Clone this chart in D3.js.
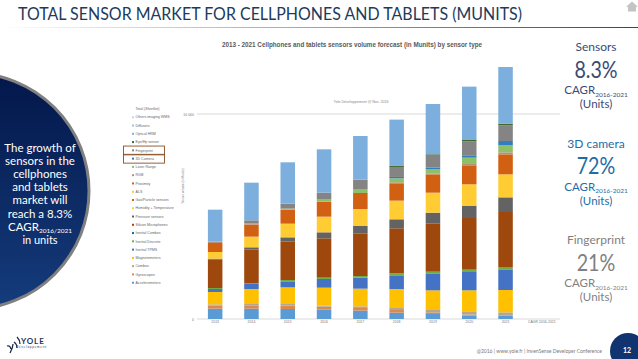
<!DOCTYPE html>
<html>
<head>
<meta charset="utf-8">
<script src="https://cdn.jsdelivr.net/npm/d3@7"></script>
<style>
  html, body { margin: 0; padding: 0; background: #fff; }
  svg { display: block; }
  text { font-family: Lato, sans-serif; }
  .chart text { font-family: "Liberation Sans", sans-serif; }
</style>
</head>
<body>
<div id="chart"></div>
<script>
var years = ["2013", "2014", "2015", "2016", "2017", "2018", "2019", "2020", "2021", "CAGR 2016-2021"];
var yTicks = [0, 10000];

// series in stacking order, bottom to top (Munits)
var seriesNames = ["Accelerometers", "Gyroscopes", "Combos", "Magnetometers", "Inertial TPMS", "Inertial Discrete",
  "Inertial Combos", "Silicon Microphones", "Pressure sensors", "Humidity + Temperature", "Gas/Particle sensors",
  "ALS", "Proximity", "RGB", "Laser Range", "3D Camera", "Fingerprint", "Eye/Hp sensor", "Optical HRM",
  "Diffusers", "Others imaging WMS"];
var seriesColors = ["#5b9bd5", "#d98a52", "#b5a68f", "#ffc000", "#4472c4", "#70ad47",
  "#255e91", "#9e480e", "#636363", "#ffcd33", "#d26012",
  "#ffcd33", "#d26012", "#b8917a", "#8cc168", "#327dc2", "#848484", "#43682b", "#7cafdd",
  "#9dc3e6", "#c9d6e8"];

var accel = [504, 504, 488, 455, 407, 309, 244, 163, 146];
var gyro = [146, 163, 163, 146, 130, 130, 81, 49, 33];
var combos = [65, 65, 81, 49, 81, 98, 114, 163, 146];
var magneto = [602, 732, 813, 878, 862, 927, 959, 1024, 1089];
var tpms = [146, 244, 293, 423, 537, 667, 829, 894, 1008];
var discrete = [49, 49, 65, 65, 81, 98, 81, 114, 114];
var inertCombos = [0, 0, 0, 0, 0, 0, 0, 0, 0];
var microphones = [1382, 1626, 1870, 1919, 2081, 2195, 2358, 2520, 2683];
var pressure = [49, 114, 211, 293, 358, 439, 520, 602, 715];
var humidity = [0, 0, 0, 0, 0, 0, 0, 0, 0];
var gas = [0, 0, 0, 0, 0, 0, 0, 0, 0];
var als = [325, 520, 667, 764, 829, 911, 976, 1041, 1122];
var proximity = [439, 585, 683, 732, 780, 846, 894, 927, 976];
var rgb = [65, 65, 0, 0, 0, 49, 49, 65, 98];
var laser = [0, 0, 49, 130, 195, 195, 211, 309, 341];
var camera3d = [0, 0, 0, 0, 0, 65, 65, 114, 211];
var fingerprint = [0, 146, 244, 309, 455, 488, 618, 683, 764];
var eyeHp = [0, 0, 0, 0, 0, 49, 33, 65, 81];
var opticalHrm = [1561, 1837, 2016, 2114, 2130, 2260, 2455, 2602, 2764];
var diffusers = [0, 0, 0, 0, 0, 0, 0, 0, 0];
var others = [0, 0, 0, 0, 0, 0, 0, 0, 0];

var seriesValues = [accel, gyro, combos, magneto, tpms, discrete, inertCombos, microphones, pressure, humidity, gas,
  als, proximity, rgb, laser, camera3d, fingerprint, eyeHp, opticalHrm, diffusers, others];

var titleLines = ["The growth of", "sensors in the", "cellphones", "and tablets", "market will", "reach a 8.3%"];
var sideNames = ["Sensors", "3D camera", "Fingerprint"];
var sideValues = ["8.3%", "72%", "21%"];
var sideColors = ["#3b4a75", "#1f6da6", "#7f7f7f"];

var svg = d3.select("#chart").append("svg")
  .attr("width", 638)
  .attr("height", 359);

var defs = svg.append("defs");
var grad = defs.append("linearGradient")
  .attr("id", "navy")
  .attr("x1", 0).attr("y1", 0).attr("x2", 0).attr("y2", 1);
grad.append("stop").attr("offset", "0%").attr("stop-color", "#03174a");
grad.append("stop").attr("offset", "100%").attr("stop-color", "#153c7c");

var ruleGrad = defs.append("linearGradient")
  .attr("id", "rule")
  .attr("gradientUnits", "userSpaceOnUse")
  .attr("x1", 0).attr("y1", 0).attr("x2", 638).attr("y2", 0);
ruleGrad.append("stop").attr("offset", "0%").attr("stop-color", "#fff");
ruleGrad.append("stop").attr("offset", "100%").attr("stop-color", "#444");

// header
svg.append("text")
  .attr("x", 18)
  .attr("y", 20)
  .attr("textLength", 504)
  .attr("lengthAdjust", "spacingAndGlyphs")
  .style("font-size", "18px")
  .style("fill", "#1d3b5c")
  .text("TOTAL SENSOR MARKET FOR CELLPHONES AND TABLETS (MUNITS)");

svg.append("line")
  .attr("x1", 0).attr("x2", 638)
  .attr("y1", 27.5).attr("y2", 27.5)
  .style("stroke", "url(#rule)")
  .style("stroke-width", 1);

svg.append("path")
  .attr("d", "M626 7 L632 1.5 L638 7 L636 7 L636 11.5 L628 11.5 L628 7 Z")
  .style("fill", "#c4c4c4");

// left circle
svg.append("circle")
  .attr("cx", -29)
  .attr("cy", 191)
  .attr("r", 118)
  .style("fill", "url(#navy)")
  .style("stroke", "#808080")
  .style("stroke-width", 3);

var leftText = svg.append("g").style("fill", "#fff").style("text-anchor", "middle");
titleLines.forEach(function(d, i) {
  leftText.append("text")
    .attr("x", 40)
    .attr("y", 152 + i * 13.1)
    .style("font-size", "11.5px")
    .text(d);
});
var cagrLeft = leftText.append("text")
  .attr("x", 40)
  .attr("y", 230.5)
  .style("font-size", "11.5px");
cagrLeft.append("tspan").text("CAGR");
cagrLeft.append("tspan").attr("dy", 2).style("font-size", "6.5px").text("2016/2021");
leftText.append("text")
  .attr("x", 40)
  .attr("y", 244)
  .style("font-size", "11px")
  .text("in units");

// chart
var margin = { top: 114, right: 78, bottom: 40, left: 197 },
  width = 638 - margin.left - margin.right,
  height = 359 - margin.top - margin.bottom;

var canvas = svg.append("g")
  .attr("class", "chart")
  .attr("transform", "translate(" + margin.left + "," + margin.top + ")");

var xScale = d3.scaleBand()
  .range([0, width])
  .paddingInner(0.6)
  .paddingOuter(0.3)
  .domain(years);

var yScale = d3.scaleLinear()
  .range([height, 0])
  .domain([0, 10000]);

var xAxis = d3.axisBottom(xScale).tickSize(0).tickPadding(1.5);
var yAxis = d3.axisLeft(yScale).tickValues(yTicks).tickSize(0).tickPadding(3)
  .tickFormat(function(d) { return d === 0 ? "0" : "10 000"; });

canvas.append("g")
  .attr("class", "grid")
  .selectAll("line")
  .data(yTicks)
  .enter().append("line")
  .attr("x1", 0)
  .attr("x2", width)
  .attr("y1", function(d) { return yScale(d); })
  .attr("y2", function(d) { return yScale(d); })
  .style("stroke", "#cfcfcf")
  .style("stroke-width", 0.8);

var rows = years.slice(0, 9).map(function(y, j) {
  var row = { year: y };
  seriesNames.forEach(function(s, i) { row[s] = seriesValues[i][j]; });
  return row;
});

var layers = d3.stack().keys(seriesNames)(rows);

canvas.selectAll(".layer")
  .data(layers)
  .enter().append("g")
  .attr("class", "layer")
  .style("fill", function(d, i) { return seriesColors[i]; })
  .selectAll("rect")
  .data(function(d) { return d; })
  .enter().append("rect")
  .attr("x", function(d) { return xScale(d.data.year); })
  .attr("y", function(d) { return yScale(d[1]); })
  .attr("width", xScale.bandwidth())
  .attr("height", function(d) { return yScale(d[0]) - yScale(d[1]); });

var gx = canvas.append("g")
  .attr("transform", "translate(0," + height + ")")
  .call(xAxis);
gx.select(".domain").remove();
gx.selectAll("text").style("font-size", "3.5px").style("fill", "#777");

var gy = canvas.append("g").call(yAxis);
gy.select(".domain").remove();
gy.selectAll("text").style("font-size", "3.5px").style("fill", "#777");

canvas.append("text")
  .attr("transform", "translate(-13.5," + 72 + ") rotate(-90)")
  .style("font-size", "3px")
  .style("fill", "#888")
  .style("text-anchor", "middle")
  .text("Sensor volume (in Munits)");

canvas.append("text")
  .attr("x", 164)
  .attr("y", -11)
  .style("font-size", "3.6px")
  .style("fill", "#888")
  .style("text-anchor", "middle")
  .text("Yole Développement @ Nov. 2016");

svg.append("text")
  .attr("class", "chart")
  .attr("x", 352)
  .attr("y", 47)
  .style("font-family", "'Liberation Sans', sans-serif")
  .style("font-size", "6.3px")
  .style("font-weight", "bold")
  .style("fill", "#5a5a5a")
  .style("text-anchor", "middle")
  .text("2013 - 2021 Cellphones and tablets sensors volume forecast (in Munits) by sensor type");

// legend, newest series on top like the source
var legendY = d3.scalePoint()
  .domain(["Total (Shortlist)"].concat(seriesNames.slice().reverse()))
  .range([109, 282.7]);

var legend = svg.append("g")
  .attr("class", "chart")
  .selectAll("g")
  .data(legendY.domain())
  .enter().append("g")
  .attr("transform", function(d) { return "translate(132," + legendY(d) + ")"; });

legend.append("rect")
  .attr("x", 0)
  .attr("y", -1)
  .attr("width", 2)
  .attr("height", 2)
  .style("fill", function(d) {
    var i = seriesNames.indexOf(d);
    return i < 0 ? "none" : seriesColors[i];
  });

legend.append("text")
  .attr("x", 3.5)
  .attr("y", 1.2)
  .style("font-size", "3.6px")
  .style("fill", "#666")
  .text(function(d) { return d; });

// highlight boxes round Fingerprint and 3D Camera
svg.append("g")
  .selectAll("rect")
  .data(["Fingerprint", "3D Camera"])
  .enter().append("rect")
  .attr("x", 123.5)
  .attr("y", function(d) { return legendY(d) - 4.3; })
  .attr("width", 41)
  .attr("height", 8.8)
  .style("fill", "none")
  .style("stroke", "#8a4f24")
  .style("stroke-width", 0.9);

// right panel
var side = svg.append("g")
  .selectAll("g")
  .data(sideNames)
  .enter().append("g")
  .attr("transform", function(d, i) { return "translate(596," + (i * 96.5) + ")"; })
  .style("fill", function(d, i) { return sideColors[i]; })
  .style("text-anchor", "middle");

side.append("text")
  .attr("y", 51)
  .style("font-size", "12px")
  .text(function(d) { return d; });

side.append("text")
  .attr("transform", "translate(0,77.5) scale(0.82,1)")
  .style("font-size", "24px")
  .text(function(d, i) { return sideValues[i]; });

var cagrRight = side.append("text")
  .attr("y", 94)
  .style("font-size", "11.5px");
cagrRight.append("tspan").text("CAGR");
cagrRight.append("tspan").attr("dy", 2.5).style("font-size", "6.5px").text("2016-2021");

side.append("text")
  .attr("y", 108)
  .style("font-size", "11.5px")
  .text("(Units)");

// footer
svg.append("text")
  .attr("x", 602)
  .attr("y", 353)
  .style("font-size", "5px")
  .style("fill", "#7a7a7a")
  .style("text-anchor", "end")
  .text("@2016 | www.yole.fr | InvenSense Developer Conference");

svg.append("circle")
  .attr("cx", 628)
  .attr("cy", 351)
  .attr("r", 18)
  .style("fill", "#0f3470");

svg.append("text")
  .attr("x", 627)
  .attr("y", 353)
  .style("font-size", "7px")
  .style("font-weight", "bold")
  .style("fill", "#fff")
  .style("text-anchor", "middle")
  .text("12");

// logo
svg.append("path")
  .attr("d", "M7 346 q3 -1 4 3 M10 353 q3 -5 3 -9 M14 342 q3 2 3 6 M17 337 q3 3 3 7")
  .style("fill", "none")
  .style("stroke", "#1b2b4d")
  .style("stroke-width", 1.3);

svg.append("text")
  .attr("x", 21)
  .attr("y", 343.5)
  .style("font-size", "8px")
  .style("font-weight", "bold")
  .style("letter-spacing", "0.9px")
  .style("fill", "#26365c")
  .text("YOLE");

svg.append("text")
  .attr("x", 16)
  .attr("y", 347.5)
  .style("font-size", "3px")
  .style("fill", "#26365c")
  .text("D é v e l o p p e m e n t");
</script>
</body>
</html>
